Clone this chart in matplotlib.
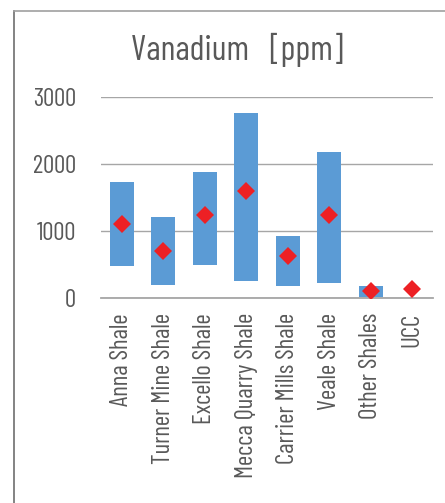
import matplotlib
matplotlib.use('Agg')
import matplotlib.pyplot as plt
from matplotlib.lines import Line2D

# vanadium ranges (min / max) and mean values, ppm
units = ['Anna Shale', 'Turner Mine Shale', 'Excello Shale', 'Mecca Quarry Shale',
         'Carrier Mills Shale', 'Veale Shale', 'Other Shales', 'UCC']
v_min = [475, 190, 490, 245, 170, 215, 10, None]
v_max = [1730, 1200, 1875, 2760, 920, 2180, 175, None]
v_mean = [1100, 705, 1235, 1600, 625, 1235, 105, 130]

plt.rcParams['font.family'] = ['Barlow Condensed', 'DejaVu Sans']
plt.rcParams['font.weight'] = 'normal'

fig = plt.figure(figsize=(4.45, 5.03), dpi=100)
ax = fig.add_axes([0.227, 0.408, 0.746, 0.399])

x = list(range(len(units)))
for i in x:
    if v_min[i] is None:
        continue
    ax.bar(i, v_max[i] - v_min[i], bottom=v_min[i], width=0.58,
           color='#5B9BD5', zorder=2)
ax.plot(x, v_mean, linestyle='none', marker='D', markersize=9.6,
        color='#ED2024', markeredgewidth=0, zorder=3)

ax.set_xlim(-0.5, len(units) - 0.5)
ax.set_ylim(0, 3000)
ax.set_yticks([0, 1000, 2000, 3000])
ax.set_xticks(x)
ax.set_xticklabels(units, rotation=90, fontsize=18, color='#595959')
ax.tick_params(axis='y', labelsize=18, labelcolor='#595959', length=0, pad=18)
ax.tick_params(axis='x', length=0, pad=11)
ax.yaxis.grid(True, color='#A6A6A6', linewidth=1.0, zorder=0)
ax.set_axisbelow(True)
for s in ['top', 'right', 'left']:
    ax.spines[s].set_visible(False)
ax.spines['bottom'].set_color('#A6A6A6')
ax.spines['bottom'].set_linewidth(1.3)

fig.text(0.532, 0.90, 'Vanadium   [ppm]', fontsize=25, color='#595959',
         ha='center', va='center')

# chart frame
fig.add_artist(Line2D([14 / 445, 14 / 445], [0, 1 - 10.5 / 503],
                      color='#6E6E6E', linewidth=1.2))
fig.add_artist(Line2D([14 / 445, 1], [1 - 10.5 / 503, 1 - 10.5 / 503],
                      color='#A0A0A0', linewidth=1.2))

plt.savefig('out.png', dpi=100)
